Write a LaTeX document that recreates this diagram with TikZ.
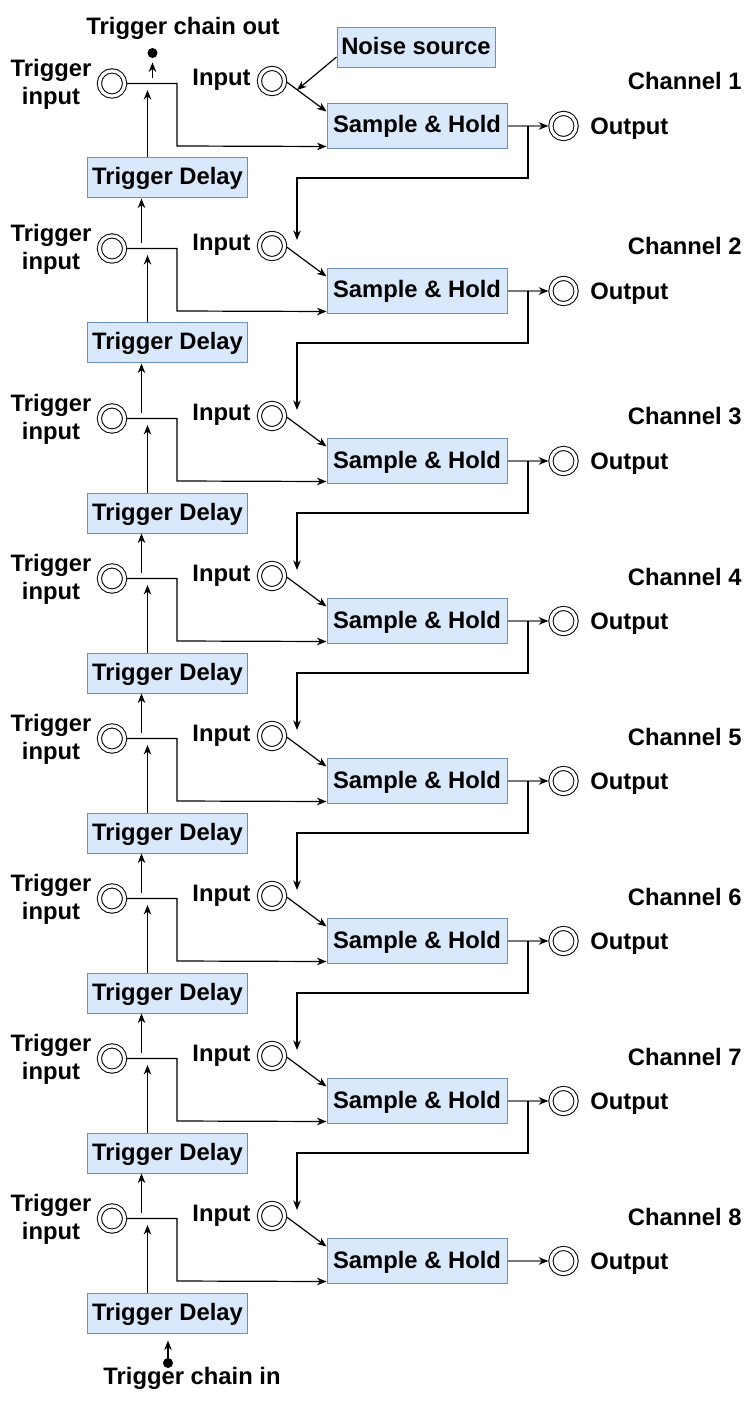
\documentclass[tikz,border=0pt]{standalone}
\usepackage{fontspec}
\setmainfont{Liberation Sans}
\usetikzlibrary{arrows.meta, calc}
\definecolor{BoxFill}{RGB}{218,232,252}
\definecolor{BoxLine}{RGB}{108,142,191}
\definecolor{WireGray}{RGB}{120,120,120}
\tikzset{
  blockbox/.style={draw=BoxLine, fill=BoxFill, line width=0.5pt, inner sep=0pt,
    text height=8.6pt, text depth=1.6pt, font=\fontsize{11.9}{14}\selectfont\bfseries},
  port/.style={circle, draw, double, double distance=1.6pt, line width=0.5pt,
    minimum size=12.6pt, inner sep=0pt, outer sep=1.3pt},
  lbl/.style={inner sep=0pt, font=\fontsize{11.9}{14}\selectfont\bfseries},
  wire/.style={line width=0.6pt},
  arr/.style={wire, -{Stealth[length=4.8pt, width=3.8pt]}},
  grayarr/.style={wire, WireGray, -{Stealth[length=4.8pt, width=3.8pt, color=black]}},
  dotpin/.style={circle, fill, inner sep=0pt, minimum size=5pt}
}
\begin{document}
\begin{tikzpicture}[x=0.5pt, y=-0.5pt]
  \fill[white] (0,0) rectangle (753,1406);
  \useasboundingbox (0,0) rectangle (753,1406);
  % noise source feeding channel 1
  \node[blockbox, minimum width=79pt, minimum height=20pt] (noise) at (416,48) {Noise source};
  \coordinate (nz) at (297,90);
  \draw[arr] ([yshift=-4.5pt]noise.west) -- (nz);
  % one row per channel
  \foreach \ch/\yc in {1/126,2/291,3/461,4/621,5/781,6/941,7/1101,8/1261} {
    \node[lbl, align=center] (tlbl\ch) at (51,\yc-42) {Trigger\\input};
    \node[port] (trig\ch) at (112,\yc-42.5) {};
    \node[lbl, anchor=base east] (ilbl\ch) at (251,\yc-40) {Input};
    \node[port] (in\ch) at (272,\yc-45) {};
    \node[blockbox, minimum width=90pt, minimum height=22.5pt] (sh\ch) at (417,\yc) {Sample \& Hold};
    \node[blockbox, minimum width=80pt, minimum height=20pt] (delay\ch) at (167.5,\yc+52) {Trigger Delay};
    \node[port] (out\ch) at (563.5,\yc) {};
    \node[lbl, anchor=base west] (olbl\ch) at (590,\yc+8.5) {Output};
    \node[lbl, anchor=base east] (chlbl\ch) at (742,\yc-36) {Channel \ch};
    \coordinate (jin\ch) at (147.5,\yc-36);
    \coordinate (jup\ch) at (141.5,\yc-48);
    \coordinate (fb\ch) at (528,\yc);
    \coordinate (fbin\ch) at (297,\yc-51);
    \draw[arr] (trig\ch.east) -| (177,\yc+20) -- ([yshift=1.25pt]sh\ch.south west);
    \draw[arr] (in\ch.-5) -- ([yshift=-4.25pt]sh\ch.north west);
    \draw[grayarr] (sh\ch.east) -- (out\ch.west);
    \draw[arr] ([xshift=-10pt]delay\ch.north) -- (jin\ch);
  }
  % links between neighbouring channels
  \foreach \ch [evaluate=\ch as \nx using int(\ch+1)] in {1,...,7} {
    \draw[arr] (fb\ch) -- ++(0,52) -| (fbin\nx);
    \draw[arr] (jup\nx) -- (jup\nx |- delay\ch.south);
  }
  % trigger chain ends
  \node[dotpin] (cout) at (152.5,53) {};
  \node[lbl, anchor=base] (coutlbl) at (183,35) {Trigger chain out};
  \coordinate (jtop) at (152.5,78);
  \draw[arr, shorten >=2pt] (jtop) -- (cout);
  \node[dotpin] (cin) at (168,1363) {};
  \node[lbl, anchor=base] (cinlbl) at (192,1384) {Trigger chain in};
  \draw[arr, shorten >=3.5pt] (cin) -- (cin |- delay8.south);
\end{tikzpicture}
\end{document}
